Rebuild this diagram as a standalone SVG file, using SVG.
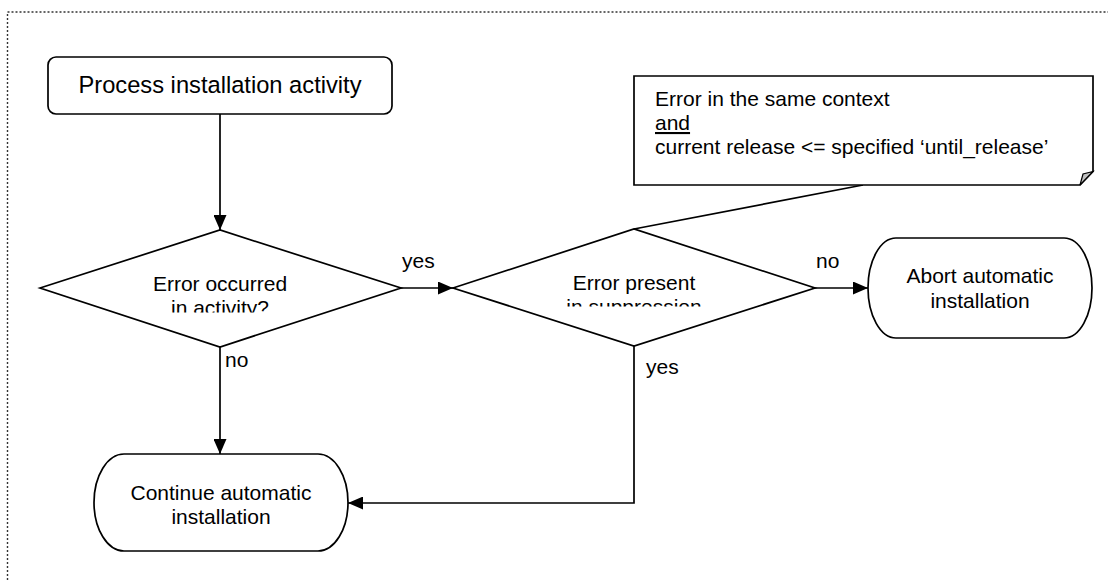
<svg xmlns="http://www.w3.org/2000/svg" width="1108" height="581" viewBox="0 0 1108 581">
<style>
.s{fill:#fff;stroke:#000;stroke-width:1.7}
.t{font-family:"Liberation Sans",Arial,sans-serif;font-size:21px;fill:#000}
.c{text-anchor:middle}
.l{fill:none;stroke:#000;stroke-width:1.7}
</style>
<defs>
<marker id="ah" markerUnits="userSpaceOnUse" markerWidth="15" markerHeight="13" refX="15" refY="6.5" orient="auto">
<path d="M0,0 L15,6.5 L0,13 z" fill="#000"/>
</marker>
<clipPath id="cp1"><rect x="0" y="0" width="1108" height="312.5"/></clipPath>
<clipPath id="cp2"><rect x="0" y="0" width="1108" height="306.5"/></clipPath>
</defs>
<rect x="7.5" y="12" width="1110" height="600" fill="none" stroke="#333" stroke-width="1.4" stroke-dasharray="2 2"/>
<g id="connectors">
<line class="l" x1="220" y1="114" x2="220" y2="230" marker-end="url(#ah)"/>
<line class="l" x1="401" y1="288" x2="453" y2="288" marker-end="url(#ah)"/>
<line class="l" x1="220" y1="347" x2="220" y2="454" marker-end="url(#ah)"/>
<polyline class="l" points="634,346 634,503 348,503" marker-end="url(#ah)"/>
<line class="l" x1="815" y1="288" x2="868" y2="288" marker-end="url(#ah)"/>
<line class="l" x1="863" y1="185" x2="634" y2="229"/>
<text class="t" x="402" y="268">yes</text>
<text class="t" x="225" y="367">no</text>
<text class="t" x="646" y="374">yes</text>
<text class="t" x="816" y="268">no</text>
</g>
<g id="process">
<rect class="s" x="48" y="57" width="344" height="57" rx="8"/>
<text class="t c" x="220" y="93" style="font-size:23.7px">Process installation activity</text>
</g>
<g id="decision1">
<polygon class="s" points="40,288 220,230 401,288 220,347"/>
<g clip-path="url(#cp1)">
<text class="t c" x="220" y="291">Error occurred</text>
<text class="t c" x="220" y="315">in activity?</text>
</g>
</g>
<g id="decision2">
<polygon class="s" points="453,288 634,229 815,288 634,346"/>
<g clip-path="url(#cp2)">
<text class="t c" x="634" y="290">Error present</text>
<text class="t c" x="634" y="314">in suppression</text>
</g>
</g>
<g id="note">
<path class="s" d="M634,76 H1093 V171.5 L1080,185 H634 Z"/>
<polygon points="1093,171.5 1080,185 1083,174" fill="#c0c0c0" stroke="#000" stroke-width="1.2"/>
<text class="t" x="655" y="106">Error in the same context</text>
<text class="t" x="655" y="130" style="text-decoration:underline">and</text>
<text class="t" x="655" y="154">current release &lt;= specified ‘until_release’</text>
</g>
<g id="abort">
<rect class="s" x="868" y="238" width="224" height="100" rx="28" ry="50"/>
<text class="t c" x="980" y="283">Abort automatic</text>
<text class="t c" x="980" y="308">installation</text>
</g>
<g id="continue">
<rect class="s" x="94" y="454" width="254" height="97" rx="30" ry="48.5"/>
<text class="t c" x="221" y="500">Continue automatic</text>
<text class="t c" x="221" y="524">installation</text>
</g>
</svg>
